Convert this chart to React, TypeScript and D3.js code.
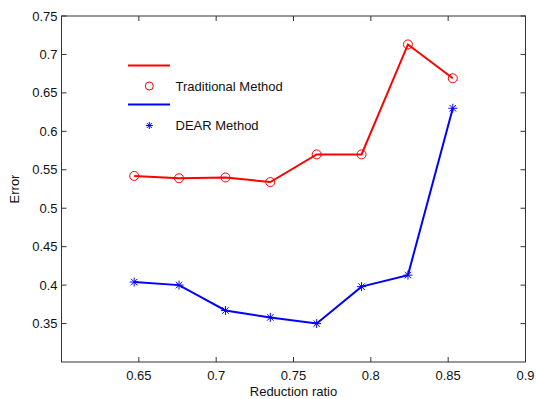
import React from "react";
import * as d3 from "d3";

const reductionRatio = [0.647, 0.676, 0.706, 0.735, 0.765, 0.794, 0.824, 0.853];
const traditionalError = [0.542, 0.539, 0.540, 0.534, 0.570, 0.570, 0.713, 0.669];
const dearError = [0.404, 0.400, 0.367, 0.358, 0.350, 0.398, 0.413, 0.630];
const xTicks = [0.65, 0.7, 0.75, 0.8, 0.85, 0.9];
const yTicks = [0.35, 0.4, 0.45, 0.5, 0.55, 0.6, 0.65, 0.7, 0.75];
const seriesNames = ["Traditional Method", "DEAR Method"];

const W = 536;
const H = 399;
const L = 61.5, R = 525.5, T = 16, B = 362;
const font = "'Liberation Sans', Arial, sans-serif";

export default function App() {
  const x = d3.scaleLinear().domain([0.6, 0.9]).range([L, R]);
  const y = d3.scaleLinear().domain([0.3, 0.75]).range([B, T]);
  const line = d3
    .line<[number, number]>()
    .x((d) => x(d[0]))
    .y((d) => y(d[1]));
  const redPts: [number, number][] = reductionRatio.map((r, i) => [r, traditionalError[i]]);
  const bluePts: [number, number][] = reductionRatio.map((r, i) => [r, dearError[i]]);
  const tick = 5;
  const fmt = (v: number) => String(+v.toFixed(2));

  const star = (cx: number, cy: number, s: number, color: string, key: string) => (
    <g key={key} stroke={color} strokeWidth={1}>
      <line x1={cx - s} y1={cy} x2={cx + s} y2={cy} />
      <line x1={cx} y1={cy - s} x2={cx} y2={cy + s} />
      <line x1={cx - s * 0.72} y1={cy - s * 0.72} x2={cx + s * 0.72} y2={cy + s * 0.72} />
      <line x1={cx - s * 0.72} y1={cy + s * 0.72} x2={cx + s * 0.72} y2={cy - s * 0.72} />
    </g>
  );

  return (
    <svg
      width={W}
      height={H}
      style={{ position: "absolute", left: 0, top: 0, background: "#fff" }}
      fontFamily={font}
    >
      <rect x={0} y={0} width={W} height={H} fill="#fff" />
      {/* ticks */}
      {xTicks.map((t) => (
        <g key={"xt" + t} stroke="#333" strokeWidth={1}>
          <line x1={x(t)} y1={B} x2={x(t)} y2={B - tick} />
          <line x1={x(t)} y1={T} x2={x(t)} y2={T + tick} />
        </g>
      ))}
      {yTicks.map((t) => (
        <g key={"yt" + t} stroke="#333" strokeWidth={1}>
          <line x1={L} y1={y(t)} x2={L + tick} y2={y(t)} />
          <line x1={R} y1={y(t)} x2={R - tick} y2={y(t)} />
        </g>
      ))}
      <rect x={L} y={T} width={R - L} height={B - T} fill="none" stroke="#333" strokeWidth={1} />
      {xTicks.map((t) => (
        <text key={"xl" + t} x={x(t)} y={B + 18} textAnchor="middle" fontSize={13} fill="#111">
          {fmt(t)}
        </text>
      ))}
      {yTicks.map((t) => (
        <text key={"yl" + t} x={L - 4} y={y(t) + 4.5} textAnchor="end" fontSize={13} fill="#111">
          {fmt(t)}
        </text>
      ))}
      <text x={(L + R) / 2} y={396} textAnchor="middle" fontSize={13} fill="#111">
        Reduction ratio
      </text>
      <text
        transform={`translate(19, ${(T + B) / 2}) rotate(-90)`}
        textAnchor="middle"
        fontSize={13}
        fill="#111"
      >
        Error
      </text>

      {/* series */}
      <path d={line(redPts) || ""} fill="none" stroke="#ff0000" strokeWidth={2} />
      {redPts.map((p, i) => (
        <circle key={"rc" + i} cx={x(p[0])} cy={y(p[1])} r={4.5} fill="none" stroke="#ff0000" strokeWidth={1} />
      ))}
      <path d={line(bluePts) || ""} fill="none" stroke="#0000ff" strokeWidth={2} />
      {bluePts.map((p, i) => star(x(p[0]), y(p[1]), 4.5, "#0000ff", "bs" + i))}

      {/* legend */}
      <line x1={128} y1={65.5} x2={170} y2={65.5} stroke="#ff0000" strokeWidth={2} />
      <circle cx={149.3} cy={86} r={4} fill="none" stroke="#ff0000" strokeWidth={1} />
      <text x={175.5} y={90.5} fontSize={13} fill="#111">
        {seriesNames[0]}
      </text>
      <line x1={128} y1={104.5} x2={170} y2={104.5} stroke="#0000ff" strokeWidth={2} />
      {star(149.3, 125.5, 3.5, "#0000ff", "legstar")}
      <text x={175.5} y={130} fontSize={13} fill="#111">
        {seriesNames[1]}
      </text>
    </svg>
  );
}
